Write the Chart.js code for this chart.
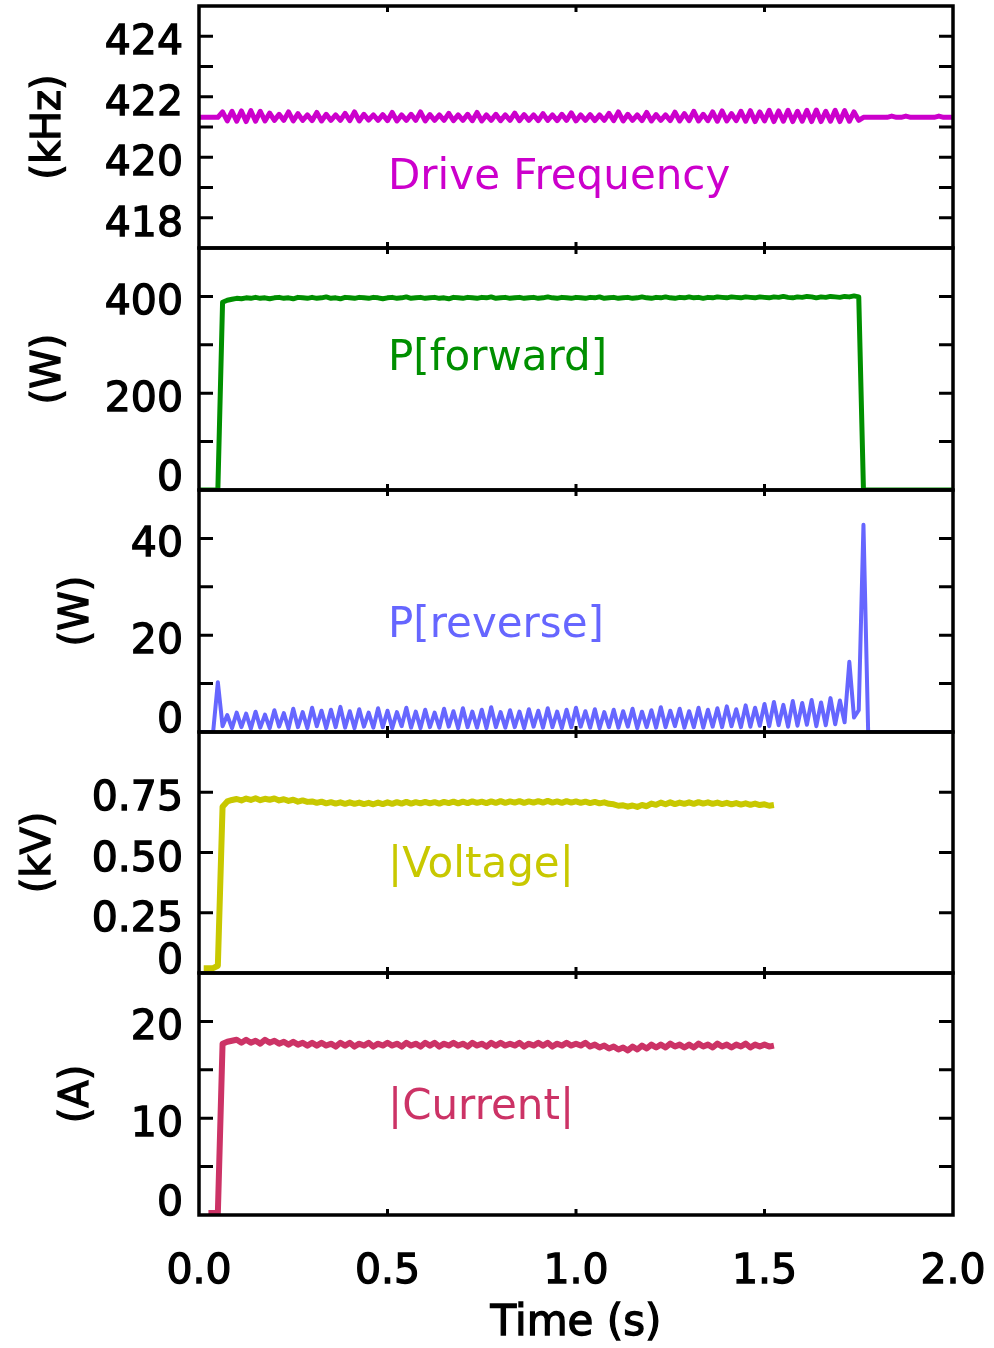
<!DOCTYPE html>
<html>
<head>
<meta charset="utf-8">
<script src="https://cdn.jsdelivr.net/npm/chart.js@4/dist/chart.umd.min.js"></script>
<style>
  body { margin: 0; background: #fff; }
  #wrap { position: relative; width: 994px; height: 1348px; }
  #wrap canvas { position: absolute; left: 0; }
</style>
</head>
<body>
<div id="wrap"></div>
<script>
// sample times (s)
const time = [
  0,0.0125,0.025,0.0375,0.05,0.0625,0.075,0.0875,
  0.1,0.1125,0.125,0.1375,0.15,0.1625,0.175,0.1875,
  0.2,0.2125,0.225,0.2375,0.25,0.2625,0.275,0.2875,
  0.3,0.3125,0.325,0.3375,0.35,0.3625,0.375,0.3875,
  0.4,0.4125,0.425,0.4375,0.45,0.4625,0.475,0.4875,
  0.5,0.5125,0.525,0.5375,0.55,0.5625,0.575,0.5875,
  0.6,0.6125,0.625,0.6375,0.65,0.6625,0.675,0.6875,
  0.7,0.7125,0.725,0.7375,0.75,0.7625,0.775,0.7875,
  0.8,0.8125,0.825,0.8375,0.85,0.8625,0.875,0.8875,
  0.9,0.9125,0.925,0.9375,0.95,0.9625,0.975,0.9875,
  1.0,1.0125,1.025,1.0375,1.05,1.0625,1.075,1.0875,
  1.1,1.1125,1.125,1.1375,1.15,1.1625,1.175,1.1875,
  1.2,1.2125,1.225,1.2375,1.25,1.2625,1.275,1.2875,
  1.3,1.3125,1.325,1.3375,1.35,1.3625,1.375,1.3875,
  1.4,1.4125,1.425,1.4375,1.45,1.4625,1.475,1.4875,
  1.5,1.5125,1.525,1.5375,1.55,1.5625,1.575,1.5875,
  1.6,1.6125,1.625,1.6375,1.65,1.6625,1.675,1.6875,
  1.7,1.7125,1.725,1.7375,1.75,1.7625,1.775,1.7875,
  1.8,1.8125,1.825,1.8375,1.85,1.8625,1.875,1.8875,
  1.9,1.9125,1.925,1.9375,1.95,1.9625,1.975,1.9875,
  2.0
];

// Drive Frequency (kHz)
const freqKHz = [
  421.32,421.32,421.32,421.32,421.32,421.50,421.20,421.52,
  421.19,421.53,421.18,421.54,421.19,421.52,421.20,421.46,
  421.22,421.42,421.22,421.50,421.20,421.44,421.22,421.40,
  421.21,421.48,421.20,421.42,421.22,421.40,421.22,421.45,
  421.21,421.50,421.20,421.42,421.23,421.40,421.22,421.41,
  421.21,421.48,421.20,421.40,421.22,421.42,421.22,421.50,
  421.20,421.41,421.22,421.40,421.22,421.45,421.21,421.40,
  421.22,421.42,421.21,421.48,421.20,421.40,421.22,421.42,
  421.21,421.40,421.22,421.46,421.21,421.41,421.22,421.40,
  421.21,421.44,421.22,421.40,421.21,421.42,421.22,421.47,
  421.20,421.40,421.22,421.41,421.21,421.40,421.22,421.45,
  421.21,421.50,421.20,421.42,421.22,421.40,421.21,421.48,
  421.20,421.41,421.22,421.40,421.21,421.49,421.20,421.44,
  421.21,421.52,421.20,421.42,421.21,421.50,421.19,421.53,
  421.20,421.44,421.21,421.52,421.19,421.54,421.18,421.50,
  421.20,421.55,421.18,421.53,421.19,421.55,421.18,421.52,
  421.19,421.55,421.18,421.56,421.18,421.52,421.19,421.55,
  421.18,421.54,421.19,421.50,421.22,421.32,421.32,421.32,
  421.32,421.32,421.32,421.36,421.32,421.32,421.36,421.32,
  421.32,421.32,421.32,421.32,421.32,421.36,421.32,421.32,
  421.32
];

// P[forward] (W)
const fwdW = [
  0,0,0,0,0,388,392,394,
  396,395,397,396,398,396,397,395,
  397,398,396,397,395,398,397,396,
  398,396,397,399,396,397,395,398,
  397,396,398,397,396,398,397,395,
  397,398,396,397,399,396,397,398,
  396,397,398,396,397,395,398,397,
  396,398,397,396,398,397,399,396,
  397,398,396,397,398,396,397,398,
  396,397,399,397,396,398,397,396,
  398,397,396,398,397,399,396,397,
  398,396,397,398,396,397,399,397,
  396,398,397,399,397,396,398,397,
  399,397,398,396,398,397,399,398,
  397,399,398,397,399,398,397,399,
  398,397,399,398,400,398,397,399,
  398,400,399,397,399,398,400,399,
  398,400,399,401,399,0,0,0,
  0,0,0,0,0,0,0,0,
  0,0,0,0,0,0,0,0,
  0
];

// P[reverse] (W)
const revW = [
  0,0,0,0,10.3,1.2,3.5,0.8,
  4.0,1.0,3.8,0.7,4.2,0.9,3.6,0.8,
  4.5,1.1,3.9,0.7,4.8,1.0,4.1,0.8,
  5.0,1.2,4.4,0.8,4.6,1.0,5.2,0.9,
  4.3,0.8,4.7,1.1,4.0,0.9,4.9,1.0,
  4.4,0.8,4.1,1.2,5.0,0.9,4.2,0.8,
  4.6,1.0,4.0,0.9,4.8,1.1,4.3,0.8,
  4.9,1.0,4.2,0.9,4.6,0.8,5.1,1.0,
  4.1,0.9,4.5,1.0,4.2,0.8,4.7,1.1,
  4.4,0.9,4.9,1.0,4.2,0.8,4.6,1.0,
  5.0,1.1,4.3,0.9,4.7,0.8,4.1,1.0,
  4.6,0.9,4.3,1.1,4.8,0.8,4.2,1.0,
  4.5,0.9,5.1,1.0,4.4,1.2,4.8,0.9,
  4.3,1.0,5.0,0.9,4.6,1.1,4.9,1.0,
  5.3,1.2,4.7,1.0,5.5,1.1,5.0,1.3,
  5.8,1.2,6.2,1.4,5.6,1.1,6.4,1.3,
  6.0,1.5,6.6,1.2,6.1,1.4,7.0,1.6,
  6.5,2.0,14.5,3.0,4.5,42.8,0,0,
  0,0,0,0,0,0,0,0,
  0,0,0,0,0,0,0,0,
  0
];

// |Voltage| (kV)
const voltKV = [
  null,0.02,0.02,0.02,0.03,0.69,0.712,0.718,
  0.722,0.716,0.724,0.718,0.725,0.717,0.723,0.719,
  0.724,0.716,0.721,0.714,0.719,0.711,0.716,0.710,
  0.712,0.706,0.711,0.704,0.709,0.703,0.708,0.702,
  0.708,0.702,0.707,0.701,0.706,0.700,0.707,0.701,
  0.708,0.702,0.709,0.703,0.710,0.703,0.709,0.704,
  0.710,0.704,0.709,0.703,0.710,0.705,0.711,0.704,
  0.711,0.705,0.712,0.706,0.711,0.705,0.712,0.706,
  0.713,0.706,0.712,0.707,0.713,0.706,0.712,0.707,
  0.713,0.707,0.714,0.707,0.712,0.706,0.713,0.707,
  0.712,0.706,0.711,0.705,0.710,0.704,0.708,0.702,
  0.700,0.694,0.696,0.690,0.695,0.689,0.697,0.692,
  0.703,0.698,0.707,0.700,0.708,0.701,0.707,0.702,
  0.708,0.702,0.709,0.703,0.708,0.702,0.707,0.701,
  0.706,0.700,0.705,0.699,0.704,0.698,0.703,0.697,
  0.700,0.694,0.697,null,null,null,null,null,
  null,null,null,null,null,null,null,null,
  null,null,null,null,null,null,null,null,
  null,null,null,null,null,null,null,null,
  null,null,null,null,null,null,null,null,
  null
];

// |Current| (A)
const currA = [
  null,null,0.2,0.2,0.2,17.7,17.9,18.0,
  18.1,17.8,18.1,17.8,18.0,17.7,18.1,17.8,
  18.0,17.7,17.9,17.6,17.9,17.6,17.8,17.5,
  17.8,17.5,17.8,17.5,17.7,17.4,17.8,17.5,
  17.8,17.4,17.7,17.5,17.8,17.4,17.7,17.5,
  17.8,17.5,17.7,17.4,17.8,17.5,17.7,17.4,
  17.8,17.5,17.8,17.4,17.7,17.5,17.8,17.5,
  17.7,17.4,17.8,17.5,17.7,17.4,17.8,17.5,
  17.8,17.5,17.7,17.5,17.8,17.4,17.7,17.5,
  17.8,17.5,17.8,17.4,17.7,17.5,17.8,17.5,
  17.7,17.5,17.8,17.4,17.6,17.3,17.5,17.2,
  17.4,17.1,17.3,17.0,17.4,17.1,17.5,17.2,
  17.6,17.3,17.6,17.3,17.7,17.4,17.6,17.3,
  17.6,17.3,17.7,17.4,17.6,17.3,17.7,17.4,
  17.6,17.3,17.6,17.4,17.7,17.3,17.6,17.4,
  17.6,17.4,17.5,null,null,null,null,null,
  null,null,null,null,null,null,null,null,
  null,null,null,null,null,null,null,null,
  null,null,null,null,null,null,null,null,
  null,null,null,null,null,null,null,null,
  null
];

// axis ticks and labels
const timeTicks = [0.5, 1.0, 1.5];
const timeLabelVals = [0, 0.5, 1.0, 1.5, 2.0];
const timeLabels = ['0.0', '0.5', '1.0', '1.5', '2.0'];

const freqTicks = [418, 419, 420, 421, 422, 423, 424];
const freqLabelVals = [418, 420, 422, 424];
const freqLabels = ['418', '420', '422', '424'];
const fwdTicks = [100, 200, 300, 400];
const fwdLabelVals = [0, 200, 400];
const fwdLabels = ['0', '200', '400'];
const revTicks = [10, 20, 30, 40];
const revLabelVals = [0, 20, 40];
const revLabels = ['0', '20', '40'];
const voltTicks = [0.25, 0.5, 0.75];
const voltLabelVals = [0, 0.25, 0.5, 0.75];
const voltLabels = ['0', '0.25', '0.50', '0.75'];
const currTicks = [5, 10, 15, 20];
const currLabelVals = [0, 10, 20];
const currLabels = ['0', '10', '20'];

const panels = [
  { series: freqKHz, color: '#cc00cc', width: 5, min: 417, max: 425, ticks: freqTicks, labelVals: freqLabelVals, labels: freqLabels,
    unit: '(kHz)', unitX: 50, name: 'Drive Frequency', nameX: 388, nameY: 189, top: 6, bottom: 248 },
  { series: fwdW, color: '#008f00', width: 5, min: 0, max: 500, ticks: fwdTicks, labelVals: fwdLabelVals, labels: fwdLabels,
    unit: '(W)', unitX: 50, name: 'P[forward]', nameX: 388, nameY: 370, top: 248, bottom: 490 },
  { series: revW, color: '#6666ff', width: 4, min: 0, max: 50, ticks: revTicks, labelVals: revLabelVals, labels: revLabels,
    unit: '(W)', unitX: 78, name: 'P[reverse]', nameX: 388, nameY: 637, top: 490, bottom: 732 },
  { series: voltKV, color: '#c8c800', width: 6, min: 0, max: 1, ticks: voltTicks, labelVals: voltLabelVals, labels: voltLabels,
    unit: '(kV)', unitX: 40, name: '|Voltage|', nameX: 388, nameY: 877, top: 732, bottom: 973 },
  { series: currA, color: '#cc3366', width: 6, min: 0, max: 25, ticks: currTicks, labelVals: currLabelVals, labels: currLabels,
    unit: '(A)', unitX: 78, name: '|Current|', nameX: 388, nameY: 1119, top: 973, bottom: 1215 }
];

const PAD = 20;
const FONT = '"DejaVu Sans", sans-serif';

// filled + thin outline to get the heavier axis lettering
function boldText(ctx, s, x, y) {
  ctx.fillText(s, x, y);
  ctx.strokeText(s, x, y);
}

function makeFrame(p, canvasTop, isLast) {
  return {
    id: 'frame',
    afterDatasetsDraw(chart) {
      const ctx = chart.ctx;
      const a = chart.chartArea;
      const x = chart.scales.x;
      const y = chart.scales.y;
      ctx.save();
      ctx.strokeStyle = '#000';
      ctx.lineWidth = 3.5;
      ctx.strokeRect(a.left, a.top, a.right - a.left, a.bottom - a.top);

      // inward ticks
      ctx.lineWidth = 3;
      ctx.beginPath();
      p.ticks.forEach(v => {
        const py = y.getPixelForValue(v);
        ctx.moveTo(a.left, py); ctx.lineTo(a.left + 14, py);
        ctx.moveTo(a.right, py); ctx.lineTo(a.right - 14, py);
      });
      timeTicks.forEach(v => {
        const px = x.getPixelForValue(v);
        ctx.moveTo(px, a.top); ctx.lineTo(px, a.top + 6);
        ctx.moveTo(px, a.bottom); ctx.lineTo(px, a.bottom - 6);
      });
      ctx.stroke();

      // y tick labels
      ctx.fillStyle = '#000';
      ctx.lineWidth = 1.3;
      ctx.font = '41px ' + FONT;
      ctx.textAlign = 'right';
      ctx.textBaseline = 'alphabetic';
      p.labelVals.forEach((v, k) => {
        const by = Math.min(y.getPixelForValue(v) + 18, a.bottom);
        boldText(ctx, p.labels[k], 183, by);
      });

      // unit title
      ctx.save();
      ctx.font = '40px ' + FONT;
      ctx.translate(p.unitX, (a.top + a.bottom) / 2);
      ctx.rotate(-Math.PI / 2);
      ctx.textAlign = 'center';
      ctx.textBaseline = 'middle';
      boldText(ctx, p.unit, 0, 0);
      ctx.restore();

      // series name
      ctx.fillStyle = p.color;
      ctx.font = '42px ' + FONT;
      ctx.textAlign = 'left';
      ctx.fillText(p.name, p.nameX, p.nameY - canvasTop);

      if (isLast) {
        ctx.fillStyle = '#000';
        ctx.font = '41px ' + FONT;
        ctx.textAlign = 'center';
        timeLabelVals.forEach((v, k) => {
          boldText(ctx, timeLabels[k], x.getPixelForValue(v), 1283 - canvasTop);
        });
        ctx.font = '42px ' + FONT;
        boldText(ctx, 'Time (s)', (a.left + a.right) / 2, 1335 - canvasTop);
      }
      ctx.restore();
    }
  };
}

const wrap = document.getElementById('wrap');
panels.forEach((p, i) => {
  const isLast = i === panels.length - 1;
  const canvasTop = p.top - PAD;
  const bottomPad = isLast ? 1348 - p.bottom : PAD;
  const h = p.bottom - p.top + PAD + bottomPad;
  const cv = document.createElement('canvas');
  cv.width = 994;
  cv.height = h;
  cv.style.top = canvasTop + 'px';
  cv.style.width = '994px';
  cv.style.height = h + 'px';
  wrap.appendChild(cv);

  new Chart(cv.getContext('2d'), {
    type: 'line',
    data: {
      datasets: [{
        data: time.map((t, k) => ({ x: t, y: p.series[k] })),
        borderColor: p.color,
        borderWidth: p.width,
        borderJoinStyle: 'round',
        pointRadius: 0,
        tension: 0,
        spanGaps: false
      }]
    },
    options: {
      responsive: false,
      animation: false,
      devicePixelRatio: 1,
      layout: { padding: { left: 199, right: 41, top: PAD, bottom: bottomPad } },
      scales: {
        x: { type: 'linear', min: 0, max: 2, display: false },
        y: { type: 'linear', min: p.min, max: p.max, display: false }
      },
      plugins: { legend: { display: false }, tooltip: { enabled: false } }
    },
    plugins: [makeFrame(p, canvasTop, isLast)]
  });
});
</script>
</body>
</html>
